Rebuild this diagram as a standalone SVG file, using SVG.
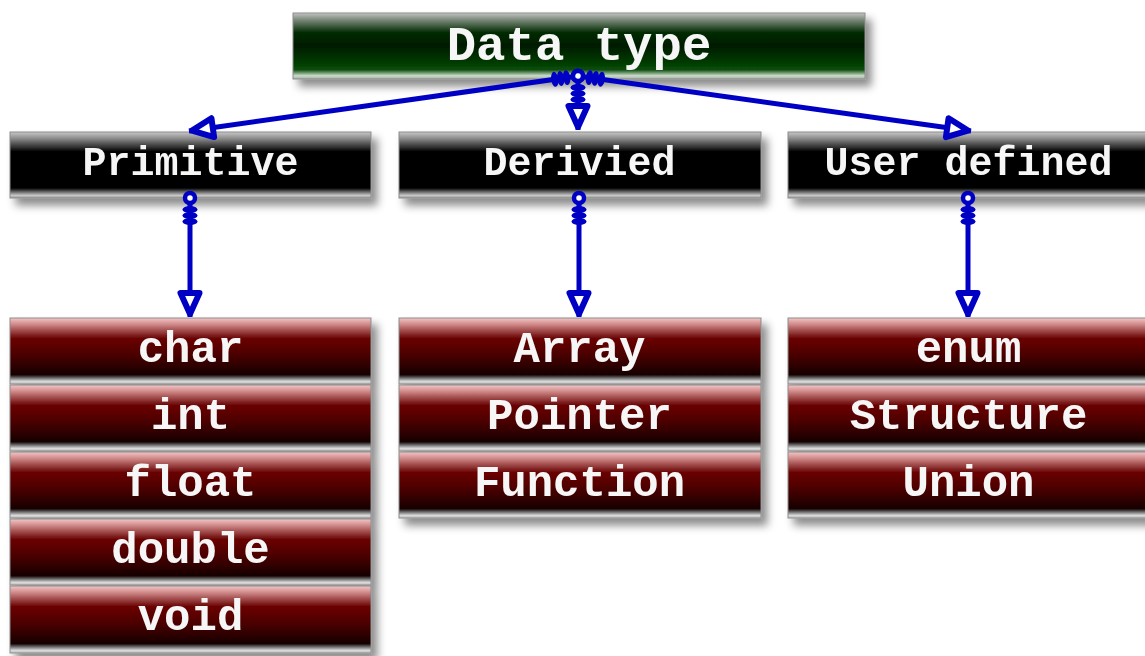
<svg xmlns="http://www.w3.org/2000/svg" width="1145" height="656" viewBox="0 0 1145 656">
  <defs>
    <linearGradient id="gGreen" x1="0" y1="0" x2="0" y2="1">
      <stop offset="0" stop-color="#c4c4c4"/>
      <stop offset="0.1" stop-color="#7c8a7c"/>
      <stop offset="0.3" stop-color="#002a00"/>
      <stop offset="0.5" stop-color="#001c00"/>
      <stop offset="0.76" stop-color="#003c00"/>
      <stop offset="0.86" stop-color="#0c4c0c"/>
      <stop offset="0.95" stop-color="#cadcca"/>
      <stop offset="1" stop-color="#a4aca4"/>
    </linearGradient>
    <linearGradient id="gBlack" x1="0" y1="0" x2="0" y2="1">
      <stop offset="0" stop-color="#c8c8c8"/>
      <stop offset="0.1" stop-color="#8a8a8a"/>
      <stop offset="0.3" stop-color="#000"/>
      <stop offset="0.85" stop-color="#000"/>
      <stop offset="0.96" stop-color="#c8c8c8"/>
      <stop offset="1" stop-color="#9a9a9a"/>
    </linearGradient>
    <linearGradient id="gRed" x1="0" y1="0" x2="0" y2="1">
      <stop offset="0" stop-color="#f2c6c6"/>
      <stop offset="0.08" stop-color="#d89494"/>
      <stop offset="0.3" stop-color="#6c0606"/>
      <stop offset="0.55" stop-color="#4c0000"/>
      <stop offset="0.86" stop-color="#160000"/>
      <stop offset="0.9" stop-color="#5a5a5a"/>
      <stop offset="0.96" stop-color="#dadada"/>
      <stop offset="1" stop-color="#bcbcbc"/>
    </linearGradient>
    <filter id="shadow" x="-10%" y="-20%" width="125%" height="160%">
      <feDropShadow dx="6" dy="7" stdDeviation="4" flood-color="#000" flood-opacity="0.45"/>
    </filter>
    <!-- ring + coil at the start of each connector -->
    <marker id="spring" markerUnits="userSpaceOnUse" orient="auto" viewBox="-10 -15 40 30" markerWidth="40" markerHeight="30" refX="0" refY="0" overflow="visible">
      <g fill="#0000c4">
        <ellipse cx="11.5" cy="0" rx="3.6" ry="7.5"/>
        <ellipse cx="17.5" cy="0" rx="3.6" ry="7.5"/>
        <ellipse cx="23.5" cy="0" rx="3.6" ry="7.5"/>
      </g>
      <circle cx="0" cy="0" r="5" fill="#fff" stroke="#0000c4" stroke-width="4.5"/>
    </marker>
    <!-- hollow triangular head -->
    <marker id="head" markerUnits="userSpaceOnUse" orient="auto" viewBox="-30 -15 35 30" markerWidth="35" markerHeight="30" refX="0" refY="0" overflow="visible">
      <polygon points="-24,-9.5 -3,0 -24,9.5" fill="#fff" stroke="#0000c4" stroke-width="6" stroke-linejoin="round"/>
    </marker>
  </defs>
  <style>
    .box { stroke: #8c8c8c; stroke-width: 1; }
    .green { fill: url(#gGreen); }
    .black { fill: url(#gBlack); }
    .red { fill: url(#gRed); }
    .lbl { fill: #f6f6f6; font-family: "Liberation Mono", "Courier New", monospace; font-weight: bold; text-anchor: middle; }
    .t1 { font-size: 49px; }
    .t2 { font-size: 40px; }
    .t3 { font-size: 44px; }
    .link { fill: none; stroke: #0000c4; stroke-width: 5; marker-start: url(#spring); marker-end: url(#head); }
  </style>

  <rect width="1145" height="656" fill="#fff"/>

  <!-- root -->
  <g id="node-datatype" filter="url(#shadow)">
    <rect class="box green" x="293" y="13" width="572" height="66"/>
    <text class="lbl t1" x="579" y="60">Data type</text>
  </g>

  <!-- categories -->
  <g filter="url(#shadow)">
    <g id="node-primitive">
      <rect class="box black" x="10" y="132" width="361" height="66"/>
      <text class="lbl t2" x="190.5" y="175">Primitive</text>
    </g>
    <g id="node-derivied">
      <rect class="box black" x="399" y="132" width="362" height="66"/>
      <text class="lbl t2" x="579.5" y="175">Derivied</text>
    </g>
    <g id="node-userdefined">
      <rect class="box black" x="788" y="132" width="361" height="66"/>
      <text class="lbl t2" x="968.5" y="175">User defined</text>
    </g>
  </g>

  <!-- primitive types -->
  <g filter="url(#shadow)">
    <g id="node-char">
      <rect class="box red" x="10" y="318" width="361" height="66"/>
      <text class="lbl t3" x="190.5" y="362">char</text>
    </g>
    <g id="node-int">
      <rect class="box red" x="10" y="385" width="361" height="66"/>
      <text class="lbl t3" x="190.5" y="429">int</text>
    </g>
    <g id="node-float">
      <rect class="box red" x="10" y="452" width="361" height="66"/>
      <text class="lbl t3" x="190.5" y="496">float</text>
    </g>
    <g id="node-double">
      <rect class="box red" x="10" y="519" width="361" height="66"/>
      <text class="lbl t3" x="190.5" y="563">double</text>
    </g>
    <g id="node-void">
      <rect class="box red" x="10" y="586" width="361" height="67"/>
      <text class="lbl t3" x="190.5" y="630">void</text>
    </g>
  </g>

  <!-- derived types -->
  <g filter="url(#shadow)">
    <g id="node-array">
      <rect class="box red" x="399" y="318" width="362" height="66"/>
      <text class="lbl t3" x="579.5" y="362">Array</text>
    </g>
    <g id="node-pointer">
      <rect class="box red" x="399" y="385" width="362" height="66"/>
      <text class="lbl t3" x="579.5" y="429">Pointer</text>
    </g>
    <g id="node-function">
      <rect class="box red" x="399" y="452" width="362" height="66"/>
      <text class="lbl t3" x="579.5" y="496">Function</text>
    </g>
  </g>

  <!-- user defined types -->
  <g filter="url(#shadow)">
    <g id="node-enum">
      <rect class="box red" x="788" y="318" width="361" height="66"/>
      <text class="lbl t3" x="968.5" y="362">enum</text>
    </g>
    <g id="node-structure">
      <rect class="box red" x="788" y="385" width="361" height="66"/>
      <text class="lbl t3" x="968.5" y="429">Structure</text>
    </g>
    <g id="node-union">
      <rect class="box red" x="788" y="452" width="361" height="66"/>
      <text class="lbl t3" x="968.5" y="496">Union</text>
    </g>
  </g>

  <!-- connectors -->
  <g id="connectors">
    <line class="link" x1="578" y1="76" x2="189" y2="131"/>
    <line class="link" x1="578" y1="76" x2="578" y2="130"/>
    <line class="link" x1="578" y1="76" x2="971" y2="131"/>
    <line class="link" x1="190" y1="198" x2="190" y2="317"/>
    <line class="link" x1="579" y1="198" x2="579" y2="317"/>
    <line class="link" x1="968" y1="198" x2="968" y2="317"/>
  </g>
</svg>
